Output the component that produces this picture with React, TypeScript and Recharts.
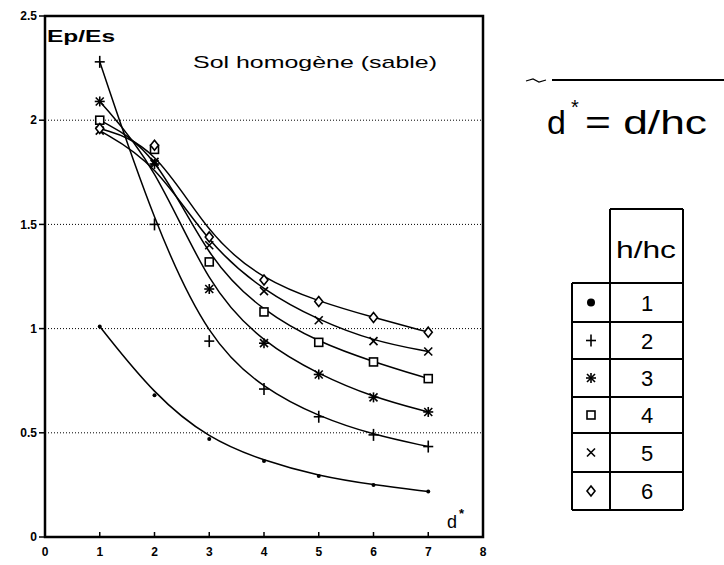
import React from 'react';
import { LineChart, Line, XAxis, YAxis, CartesianGrid } from 'recharts';

// d* = d/hc
const dStar = [1, 2, 3, 4, 5, 6, 7];
// Ep/Es for each h/hc
const h1 = [1.01, 0.68, 0.47, 0.365, 0.293, 0.25, 0.218];
const h2 = [2.28, 1.5, 0.94, 0.71, 0.577, 0.49, 0.434];
const h3 = [2.09, 1.79, 1.19, 0.93, 0.78, 0.67, 0.6];
const h4 = [2.0, 1.86, 1.32, 1.08, 0.934, 0.84, 0.76];
const h5 = [1.95, 1.8, 1.4, 1.18, 1.04, 0.94, 0.89];
const h6 = [1.96, 1.88, 1.44, 1.233, 1.13, 1.053, 0.983];

const xTicks = [0, 1, 2, 3, 4, 5, 6, 7, 8];
const yTicks = [0, 0.5, 1, 1.5, 2, 2.5];
const gridValues = [0.5, 1, 1.5, 2];
const hhcLabels = ['1', '2', '3', '4', '5', '6'];
const markerKinds = ['dot', 'plus', 'star', 'square', 'cross', 'diamond'];
const seriesKeys = ['h1', 'h2', 'h3', 'h4', 'h5', 'h6'];

const data = dStar.map((d, i) => ({
  d,
  h1: h1[i],
  h2: h2[i],
  h3: h3[i],
  h4: h4[i],
  h5: h5[i],
  h6: h6[i],
}));

const FONT = '"Liberation Sans", Arial, sans-serif';
const W = 724;
const H = 565;
const margin = { top: 16, right: 241, bottom: 8, left: 15 };
const Y_AXIS_W = 30;
const X_AXIS_H = 20;
const plotLeft = margin.left + Y_AXIS_W;
const plotRight = W - margin.right;
const plotTop = margin.top;
const plotBottom = H - margin.bottom - X_AXIS_H;

const Marker = ({ cx, cy, kind, big = false }: { cx: number; cy: number; kind: string; big?: boolean }) => {
  const sw = 1.6;
  switch (kind) {
    case 'dot':
      return <circle cx={cx} cy={cy} r={big ? 4 : 2} fill="#000" />;
    case 'plus':
      return (
        <g stroke="#000" strokeWidth={sw}>
          <line x1={cx - 5} y1={cy} x2={cx + 5} y2={cy} />
          <line x1={cx} y1={cy - 6} x2={cx} y2={cy + 6} />
        </g>
      );
    case 'star':
      return (
        <g stroke="#000" strokeWidth={sw}>
          <line x1={cx - 5} y1={cy} x2={cx + 5} y2={cy} />
          <line x1={cx} y1={cy - 5} x2={cx} y2={cy + 5} />
          <line x1={cx - 4} y1={cy - 4} x2={cx + 4} y2={cy + 4} />
          <line x1={cx - 4} y1={cy + 4} x2={cx + 4} y2={cy - 4} />
        </g>
      );
    case 'square':
      return <rect x={cx - 4} y={cy - 4} width={8} height={8} fill="#fff" stroke="#000" strokeWidth={sw} />;
    case 'cross':
      return (
        <g stroke="#000" strokeWidth={sw}>
          <line x1={cx - 4} y1={cy - 4} x2={cx + 4} y2={cy + 4} />
          <line x1={cx - 4} y1={cy + 4} x2={cx + 4} y2={cy - 4} />
        </g>
      );
    default:
      return (
        <polygon
          points={`${cx},${cy - 5} ${cx + 4},${cy} ${cx},${cy + 5} ${cx - 4},${cy}`}
          fill="#fff"
          stroke="#000"
          strokeWidth={sw}
        />
      );
  }
};

const XTick = (props: any) => {
  const { x, y, payload } = props;
  return (
    <g>
      <line x1={x} y1={y} x2={x} y2={y - 5} stroke="#000" strokeWidth={1.5} />
      <text x={x} y={y + 19} textAnchor="middle" fontSize={12} fontWeight="bold" fill="#000" fontFamily={FONT}>
        {payload.value}
      </text>
    </g>
  );
};

const rowLines = [283, 322, 359, 397, 433, 472, 510];

const Annotations = () => (
  <svg
    width={W}
    height={H}
    style={{ position: 'absolute', left: 0, top: 0, pointerEvents: 'none' }}
    fontFamily={FONT}
  >
    {/* frame: top and right edges of plot */}
    <rect
      x={plotLeft}
      y={plotTop}
      width={plotRight - plotLeft}
      height={plotBottom - plotTop}
      fill="none"
      stroke="#000"
      strokeWidth={2.5}
    />
    <text x={47} y={42} fontSize={16} fontWeight="bold" textLength={68} lengthAdjust="spacingAndGlyphs">
      Ep/Es
    </text>
    <text x={193} y={68} fontSize={17} textLength={244} lengthAdjust="spacingAndGlyphs">
      Sol homogène (sable)
    </text>
    <text x={447} y={528} fontSize={18}>d</text>
    <text x={459} y={518} fontSize={13} fontWeight="bold">*</text>

    {/* formula at right */}
    <path d="M526,81 L533,79 L539,82 L546,80" fill="none" stroke="#000" strokeWidth={1.2} />
    <line x1={552} y1={80} x2={724} y2={80} stroke="#000" strokeWidth={2} />
    <text x={547} y={134} fontSize={34}>d</text>
    <text x={571} y={114} fontSize={20}>*</text>
    <text x={585} y={134} fontSize={34} textLength={122} lengthAdjust="spacingAndGlyphs">
      = d/hc
    </text>

    {/* h/hc table */}
    <g stroke="#000" strokeWidth={2} fill="none">
      <line x1={610} y1={209} x2={683} y2={209} />
      <line x1={610} y1={209} x2={610} y2={510} />
      <line x1={683} y1={209} x2={683} y2={510} />
      <line x1={572} y1={283} x2={572} y2={510} />
      {rowLines.map((y) => (
        <line key={y} x1={572} y1={y} x2={683} y2={y} />
      ))}
    </g>
    <text x={646} y={258} fontSize={24} textAnchor="middle" textLength={60} lengthAdjust="spacingAndGlyphs">
      h/hc
    </text>
    {hhcLabels.map((lab, i) => {
      const cy = (rowLines[i] + rowLines[i + 1]) / 2;
      return (
        <g key={lab}>
          <Marker cx={591} cy={cy} kind={markerKinds[i]} big />
          <text x={647} y={cy + 8} fontSize={22} textAnchor="middle">
            {lab}
          </text>
        </g>
      );
    })}
  </svg>
);

export default function App() {
  return (
    <div style={{ position: 'absolute', left: 0, top: 0, width: W, height: H, background: '#fff', fontFamily: FONT }}>
      <LineChart width={W} height={H} data={data} margin={margin}>
        <CartesianGrid vertical={false} horizontalValues={gridValues} stroke="#000" strokeDasharray="1 2" />
        <XAxis
          dataKey="d"
          type="number"
          domain={[0, 8]}
          ticks={xTicks}
          interval={0}
          height={X_AXIS_H}
          tickSize={0}
          tickMargin={0}
          tickLine={false}
          axisLine={{ stroke: '#000', strokeWidth: 2 }}
          tick={<XTick />}
        />
        <YAxis
          type="number"
          domain={[0, 2.5]}
          ticks={yTicks}
          interval={0}
          width={Y_AXIS_W}
          tickSize={6}
          tickMargin={2}
          axisLine={{ stroke: '#000', strokeWidth: 2 }}
          tickLine={{ stroke: '#000', strokeWidth: 1.5 }}
          tick={{ fill: '#000', fontSize: 12, fontWeight: 'bold', fontFamily: FONT }}
        />
        {seriesKeys.map((k, si) => (
          <Line
            key={k}
            dataKey={k}
            type="basis"
            stroke="#000"
            strokeWidth={1.5}
            isAnimationActive={false}
            activeDot={false}
            dot={(p: any) => <Marker key={`${k}-${p.index}`} cx={p.cx} cy={p.cy} kind={markerKinds[si]} />}
          />
        ))}
      </LineChart>
      <Annotations />
    </div>
  );
}
